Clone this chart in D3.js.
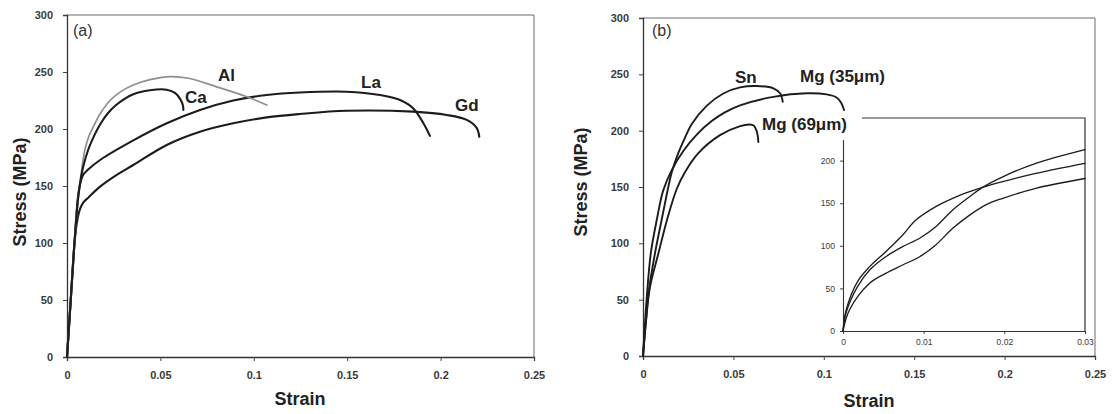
<!DOCTYPE html>
<html>
<head>
<meta charset="utf-8">
<script src="https://cdn.jsdelivr.net/npm/d3@7"></script>
<style>
  html, body { margin: 0; padding: 0; background: #fff; }
  svg { display: block; font-family: "Liberation Sans", Arial, sans-serif; }
</style>
</head>
<body>
<svg id="chart" width="1112" height="414"></svg>
<script>
// ---- Panel (a): stress-strain curves for Al, Ca, La and Gd additions ----
const curvesA = ["Al", "Ca", "La", "Gd"];
const strainAl = [0, 0.002, 0.004, 0.006, 0.0075, 0.0096, 0.0118, 0.0141, 0.018, 0.023, 0.029, 0.0355, 0.045, 0.0555, 0.065, 0.0801, 0.0962, 0.1069];
const stressAl = [0, 50, 100, 140, 160, 182, 194, 202, 214, 225, 233, 238.6, 243.5, 246, 244.5, 237, 228.3, 221];
const strainCa = [0, 0.002, 0.004, 0.006, 0.0075, 0.0087, 0.0114, 0.0145, 0.0177, 0.022, 0.0266, 0.0355, 0.0444, 0.0534, 0.058, 0.0607, 0.062, 0.0623];
const stressCa = [0, 50, 100, 140, 157, 167, 182, 194, 204, 214, 221.5, 230.5, 234, 234.5, 231.5, 226, 221, 216.7];
const strainLa = [0, 0.002, 0.004, 0.006, 0.0075, 0.0087, 0.011, 0.0177, 0.0355, 0.0534, 0.0712, 0.089, 0.1069, 0.1247, 0.1497, 0.1676, 0.1783, 0.1854, 0.1908, 0.1943];
const stressLa = [0, 50, 100, 142, 155, 160, 164, 172.8, 190, 205, 216.7, 225, 229.8, 232, 232.7, 229.8, 225.4, 218, 205, 194];
const strainGd = [0, 0.002, 0.004, 0.0055, 0.007, 0.0087, 0.0115, 0.0177, 0.025, 0.0355, 0.0534, 0.0712, 0.089, 0.1069, 0.1247, 0.1497, 0.1854, 0.2033, 0.214, 0.2193, 0.2207];
const stressGd = [0, 50, 100, 120, 130, 135.5, 140, 149.4, 158, 168.4, 186, 197.6, 205, 210.2, 213.2, 216, 215.2, 212.3, 208, 201, 193.2];

// ---- Panel (b): Sn and Mg additions (two grain sizes) ----
const curvesB = ["Sn", "Mg (35\u03bcm)", "Mg (69\u03bcm)"];
const strainSn = [0, 0.0017, 0.003, 0.0066, 0.0103, 0.014, 0.0159, 0.0195, 0.023, 0.027, 0.0352, 0.0444, 0.0537, 0.0629, 0.0721, 0.0758, 0.0773];
const stressSn = [0, 32, 55, 91, 120.7, 150, 163, 180, 193, 206, 222, 233, 238.4, 239.6, 237.6, 233.2, 225.7];
const strainMg35 = [0, 0.002, 0.0043, 0.0076, 0.0112, 0.0159, 0.0223, 0.03, 0.038, 0.045, 0.0537, 0.0721, 0.0905, 0.1016, 0.107, 0.1095, 0.1112];
const stressMg35 = [0, 50, 91, 120.7, 147, 165, 182, 197, 208.5, 216, 222.5, 230, 233.2, 232.2, 229.5, 225, 218.3];
const strainMg69 = [0, 0.0017, 0.0039, 0.0085, 0.0135, 0.0186, 0.0232, 0.0306, 0.0426, 0.0537, 0.059, 0.0612, 0.0628, 0.0635, 0.0638];
const stressMg69 = [0, 32, 61.5, 91, 122, 148, 163, 180, 196, 204, 205.5, 204.5, 200, 195, 190];

// ---- Inset of panel (b): early strain region ----
const insetStrainSn = [0, 0.0004, 0.0018, 0.0033, 0.0053, 0.0074, 0.0095, 0.0115, 0.0136, 0.0157, 0.0173, 0.0198, 0.0239, 0.03];
const insetStressSn = [0, 22, 52, 71.6, 87.2, 99, 108.8, 122.4, 142, 157.6, 168.6, 181, 196.8, 213];
const insetStrainMg35 = [0, 0.0004, 0.0018, 0.0033, 0.0053, 0.0074, 0.009, 0.0115, 0.0136, 0.0157, 0.0173, 0.0198, 0.0239, 0.03];
const insetStressMg35 = [0, 25, 58, 75.5, 93, 112.7, 130, 146, 155.7, 163.5, 168.6, 175.3, 185, 196.8];
const insetStrainMg69 = [0, 0.0008, 0.0033, 0.0053, 0.0074, 0.0095, 0.0115, 0.0136, 0.0157, 0.0177, 0.0198, 0.0239, 0.03];
const insetStressMg69 = [0, 24.6, 56, 67.7, 77.5, 87.2, 101, 120.5, 136, 148, 155.7, 167.5, 179];

// ---- Tick values ----
const strainTicks = [0, 0.05, 0.1, 0.15, 0.2, 0.25];
const stressTicks = [0, 50, 100, 150, 200, 250, 300];
const insetStrainTicks = [0, 0.01, 0.02, 0.03];
const insetStressTicks = [0, 50, 100, 150, 200];

const zip = (xs, ys) => xs.map((x, i) => [x, ys[i]]);
const svg = d3.select("#chart");
const ink = "#1c1c1c";

function drawPanel(g, x, y, opts) {
  // frame (top/right borders)
  const [x0, x1] = x.range();
  const [yb, yt] = y.range();
  g.append("path")
    .attr("d", `M${x0},${yt}H${x1}V${yb}`)
    .attr("fill", "none").attr("stroke", opts.frame || "#6a6a6a").attr("stroke-width", opts.frameW || 1);

  const fmt = d => d === 0 ? "0" : String(d);
  const ax = g.append("g").attr("transform", `translate(0,${yb})`)
    .call(d3.axisBottom(x).tickValues(opts.xTicks).tickFormat(fmt).tickSize(opts.tick).tickPadding(opts.pad));
  const ay = g.append("g").attr("transform", `translate(${x0},0)`)
    .call(d3.axisLeft(y).tickValues(opts.yTicks).tickFormat(fmt).tickSize(opts.tick).tickPadding(opts.pad));
  [ax, ay].forEach(a => {
    a.select(".domain").attr("stroke", "#333").attr("stroke-width", opts.axisW);
    a.selectAll(".tick line").attr("stroke", "#444");
    a.selectAll("text")
      .attr("fill", "#3a3a3a")
      .attr("font-size", opts.tickFont)
      .attr("font-weight", opts.tickWeight)
      .attr("font-family", "'Liberation Sans', Arial, sans-serif");
  });
  return { ax, ay };
}

function drawCurve(g, x, y, pts, color, width) {
  g.append("path")
    .datum(pts)
    .attr("fill", "none")
    .attr("stroke", color)
    .attr("stroke-width", width)
    .attr("stroke-linejoin", "round")
    .attr("stroke-linecap", "round")
    .attr("d", d3.line().x(d => x(d[0])).y(d => y(d[1])).curve(d3.curveCatmullRom.alpha(0.5)));
}

function label(g, txt, xp, yp, size, weight, anchor, color) {
  return g.append("text").attr("x", xp).attr("y", yp)
    .attr("font-size", size).attr("font-weight", weight || "bold")
    .attr("text-anchor", anchor || "start")
    .attr("fill", color || "#222").text(txt);
}

// ================= Panel (a) =================
const gA = svg.append("g");
const xA = d3.scaleLinear().domain([0, 0.25]).range([67, 534]);
const yA = d3.scaleLinear().domain([0, 300]).range([357, 15]);
drawPanel(gA, xA, yA, { xTicks: strainTicks, yTicks: stressTicks, tick: 4, pad: 10, axisW: 1.3, tickFont: 11, tickWeight: "bold" });

drawCurve(gA, xA, yA, zip(strainGd, stressGd), ink, 2.1);
drawCurve(gA, xA, yA, zip(strainLa, stressLa), ink, 2.1);
drawCurve(gA, xA, yA, zip(strainAl, stressAl), "#8f8f8f", 1.7);
drawCurve(gA, xA, yA, zip(strainCa, stressCa), ink, 2.1);

label(gA, "(a)", 73, 36, 16, "normal", "start", "#333");
label(gA, curvesA[0], 218, 81, 17);
label(gA, curvesA[1], 185, 103, 17);
label(gA, curvesA[2], 361, 88, 17);
label(gA, curvesA[3], 455, 111, 17);
label(gA, "Strain", 300, 405, 18, "bold", "middle");
gA.append("text")
  .attr("transform", "translate(26,192) rotate(-90)")
  .attr("text-anchor", "middle").attr("font-size", 18).attr("font-weight", "bold")
  .attr("fill", "#222").text("Stress (MPa)");

// ================= Panel (b) =================
const gB = svg.append("g");
const xB = d3.scaleLinear().domain([0, 0.25]).range([643, 1095]);
const yB = d3.scaleLinear().domain([0, 300]).range([356, 18]);
drawPanel(gB, xB, yB, { xTicks: strainTicks, yTicks: stressTicks, tick: 4, pad: 10, axisW: 1.3, tickFont: 11, tickWeight: "bold" });

drawCurve(gB, xB, yB, zip(strainMg69, stressMg69), ink, 1.9);
drawCurve(gB, xB, yB, zip(strainMg35, stressMg35), ink, 1.9);
drawCurve(gB, xB, yB, zip(strainSn, stressSn), ink, 1.9);

label(gB, "(b)", 652, 36, 16, "normal", "start", "#333");
label(gB, curvesB[0], 735, 83, 17);
label(gB, curvesB[1], 800, 82, 17);
label(gB, "Strain", 869, 407, 18, "bold", "middle");
gB.append("text")
  .attr("transform", "translate(587,182) rotate(-90)")
  .attr("text-anchor", "middle").attr("font-size", 18).attr("font-weight", "bold")
  .attr("fill", "#222").text("Stress (MPa)");

// ---- Inset ----
const gI = svg.append("g");
const xI = d3.scaleLinear().domain([0, 0.03]).range([843, 1085]);
const yI = d3.scaleLinear().domain([0, 250]).range([331, 118]);
drawPanel(gI, xI, yI, { xTicks: insetStrainTicks, yTicks: insetStressTicks, tick: 3, pad: 5, axisW: 1.1, tickFont: 8.5, tickWeight: "normal", frame: "#333", frameW: 1.2 });

drawCurve(gI, xI, yI, zip(insetStrainMg69, insetStressMg69), ink, 1.3);
drawCurve(gI, xI, yI, zip(insetStrainMg35, insetStressMg35), ink, 1.3);
drawCurve(gI, xI, yI, zip(insetStrainSn, insetStressSn), ink, 1.3);

// label box for the 69 μm curve sits over the inset's top-left corner
gI.append("rect").attr("x", 760).attr("y", 112).attr("width", 102).attr("height", 28).attr("fill", "#fff");
label(gI, curvesB[2], 762, 130, 17);
</script>
</body>
</html>
